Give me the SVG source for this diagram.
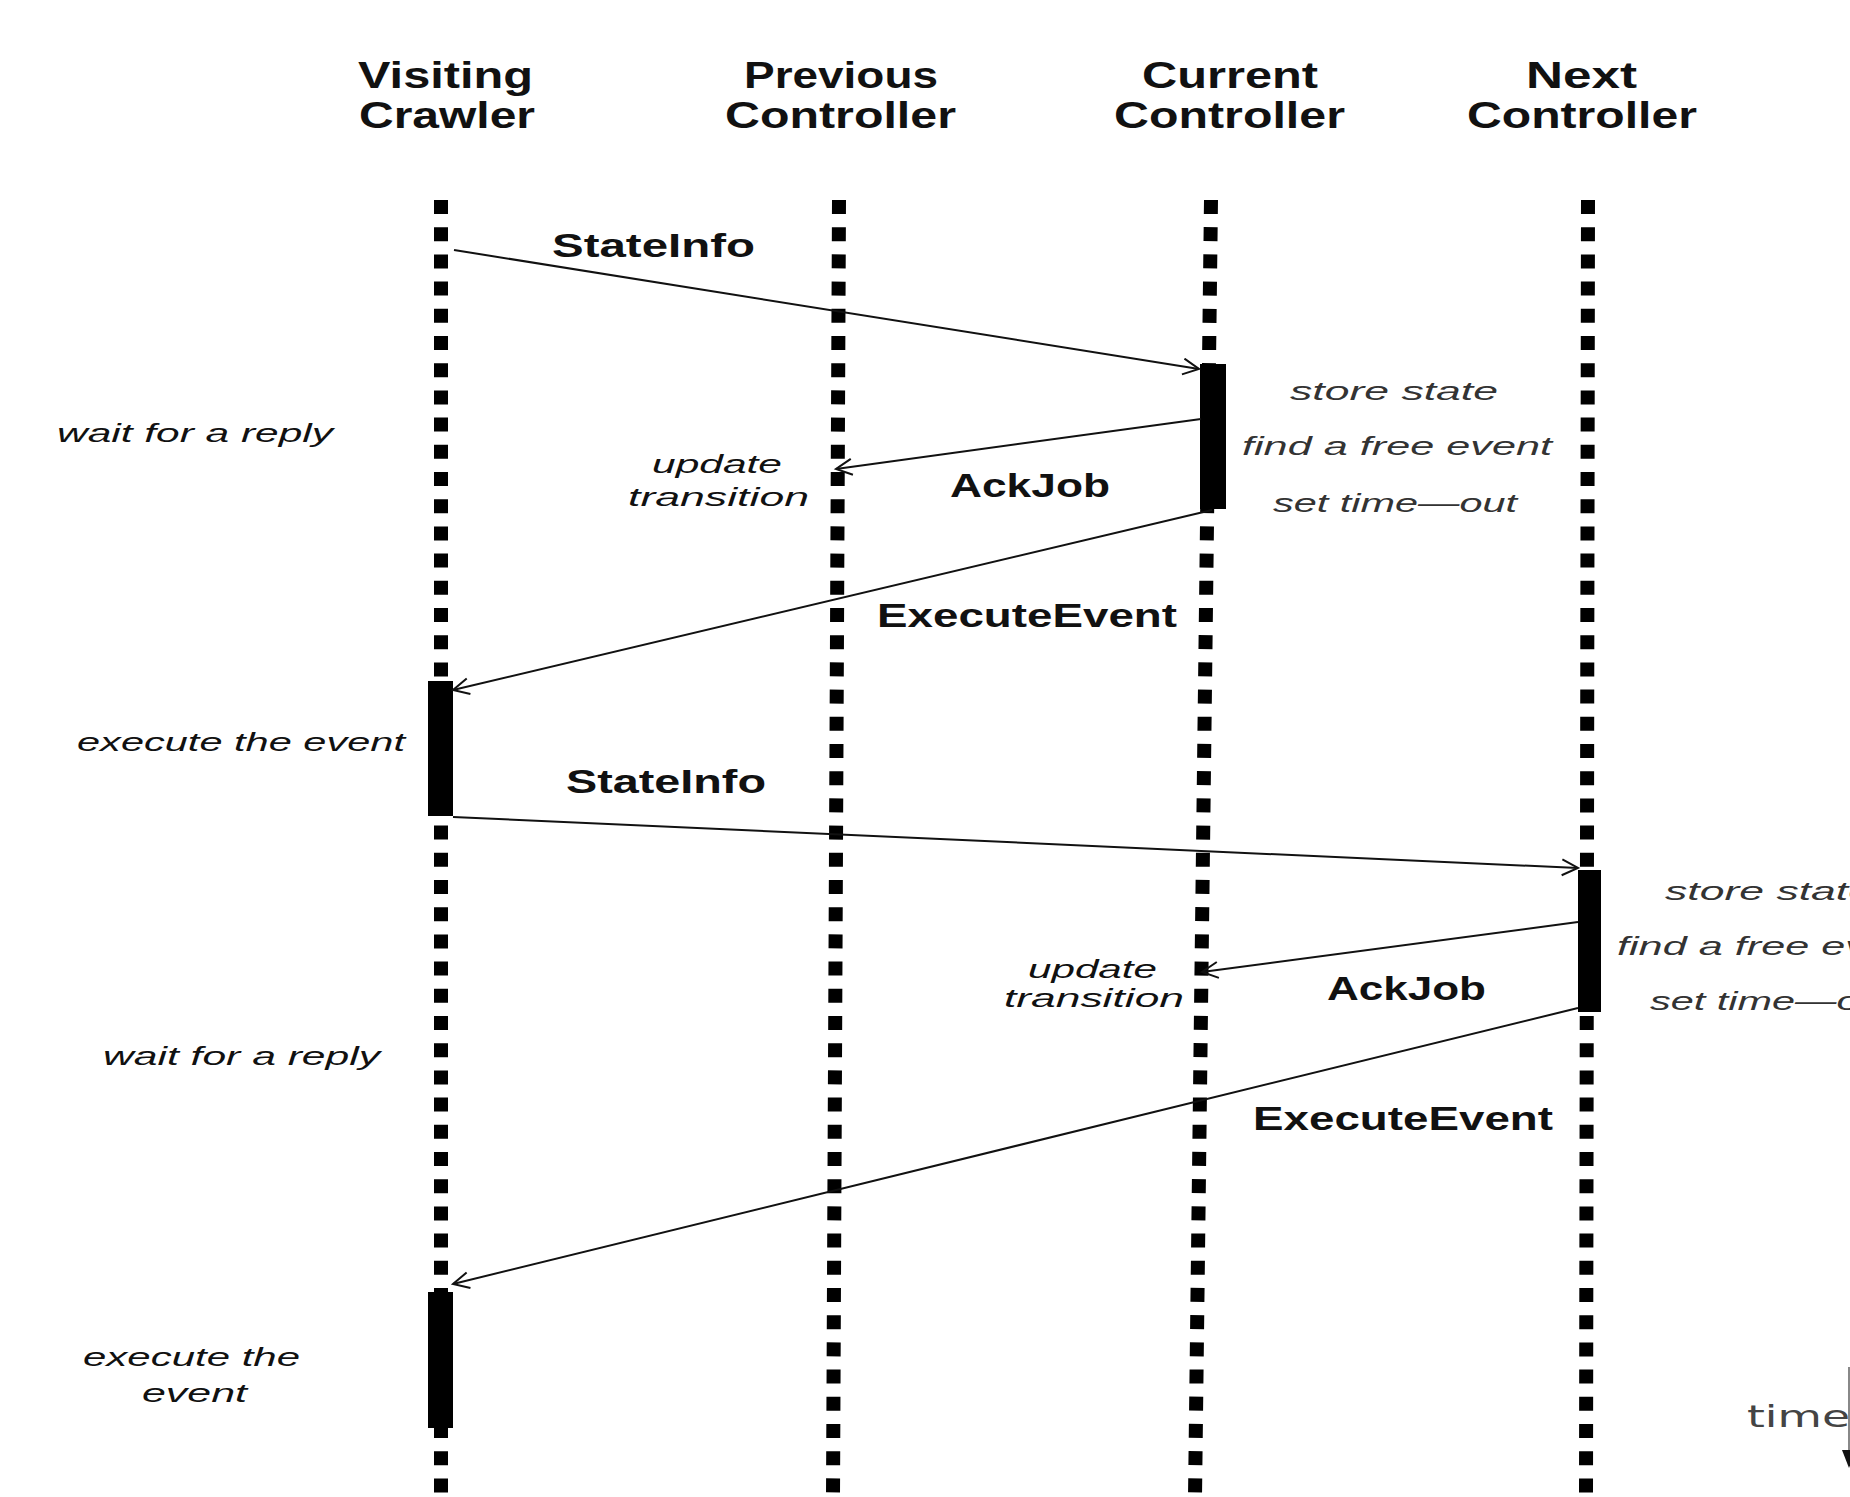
<svg xmlns="http://www.w3.org/2000/svg" width="1850" height="1497" viewBox="0 0 1850 1497">
<style>
.hdr{font-family:"Liberation Sans",Arial,sans-serif;font-weight:bold;font-size:36px;fill:#111}
.msg{font-family:"Liberation Sans",Arial,sans-serif;font-weight:bold;font-size:33px;fill:#111}
.note{font-family:"Liberation Sans",Arial,sans-serif;font-style:italic;font-size:26px;fill:#111}
.rnote{font-family:"Liberation Sans",Arial,sans-serif;font-style:italic;font-size:26px;fill:#333}
.life{stroke:#000;stroke-width:14;stroke-dasharray:14 13.2;fill:none}
.bar{fill:#000}
.conn{stroke:#111;stroke-width:2;fill:none;marker-end:url(#open)}
</style>
<defs>
<marker id="open" markerUnits="userSpaceOnUse" markerWidth="22" markerHeight="22" refX="17" refY="9" orient="auto">
<path d="M1,1 L17,9 L1,17" fill="none" stroke="#111" stroke-width="2"/>
</marker>
</defs>
<rect width="1850" height="1497" fill="#fff"/>

<g id="crawler">
<text class="hdr" x="358" y="88" textLength="175" lengthAdjust="spacingAndGlyphs">Visiting</text>
<text class="hdr" x="359" y="128" textLength="176" lengthAdjust="spacingAndGlyphs">Crawler</text>
<line class="life" x1="441" y1="200" x2="441" y2="1497"/>
<rect class="bar" x="428" y="681" width="25" height="135"/>
<rect class="bar" x="428" y="1292" width="25" height="136"/>
</g>
<g id="previous">
<text class="hdr" x="744" y="88" textLength="194" lengthAdjust="spacingAndGlyphs">Previous</text>
<text class="hdr" x="725" y="128" textLength="231" lengthAdjust="spacingAndGlyphs">Controller</text>
<line class="life" x1="839" y1="200" x2="833" y2="1497"/>
</g>
<g id="current">
<text class="hdr" x="1142" y="88" textLength="176" lengthAdjust="spacingAndGlyphs">Current</text>
<text class="hdr" x="1114" y="128" textLength="231" lengthAdjust="spacingAndGlyphs">Controller</text>
<line class="life" x1="1211" y1="200" x2="1195" y2="1497"/>
<rect class="bar" x="1200" y="364" width="26" height="145"/>
</g>
<g id="next">
<text class="hdr" x="1526" y="88" textLength="111" lengthAdjust="spacingAndGlyphs">Next</text>
<text class="hdr" x="1467" y="128" textLength="230" lengthAdjust="spacingAndGlyphs">Controller</text>
<line class="life" x1="1588" y1="200" x2="1586" y2="1497"/>
<rect class="bar" x="1578" y="870" width="23" height="142"/>
</g>

<g id="notes">
<text class="note" x="57" y="442" textLength="276" lengthAdjust="spacingAndGlyphs">wait for a reply</text>
<text class="note" x="77" y="751" textLength="328" lengthAdjust="spacingAndGlyphs">execute the event</text>
<text class="note" x="103" y="1065" textLength="277" lengthAdjust="spacingAndGlyphs">wait for a reply</text>
<text class="note" x="83" y="1366" textLength="217" lengthAdjust="spacingAndGlyphs">execute the</text>
<text class="note" x="142" y="1402" textLength="105" lengthAdjust="spacingAndGlyphs">event</text>
<text class="note" x="652" y="473" textLength="130" lengthAdjust="spacingAndGlyphs">update</text>
<text class="note" x="628" y="506" textLength="181" lengthAdjust="spacingAndGlyphs">transition</text>
<text class="note" x="1028" y="978" textLength="129" lengthAdjust="spacingAndGlyphs">update</text>
<text class="note" x="1004" y="1007" textLength="180" lengthAdjust="spacingAndGlyphs">transition</text>
<text class="rnote" x="1290" y="400" textLength="208" lengthAdjust="spacingAndGlyphs">store state</text>
<text class="rnote" x="1242" y="455" textLength="310" lengthAdjust="spacingAndGlyphs">find a free event</text>
<text class="rnote" x="1273" y="512" textLength="244" lengthAdjust="spacingAndGlyphs">set time—out</text>
<text class="rnote" x="1665" y="900" textLength="208" lengthAdjust="spacingAndGlyphs">store state</text>
<text class="rnote" x="1617" y="955" textLength="310" lengthAdjust="spacingAndGlyphs">find a free event</text>
<text class="rnote" x="1650" y="1010" textLength="244" lengthAdjust="spacingAndGlyphs">set time—out</text>
</g>

<g id="time-axis">
<text x="1747" y="1427" textLength="103" lengthAdjust="spacingAndGlyphs" style="font-family:'DejaVu Sans',sans-serif;font-size:30px;fill:#444">time</text>
<line x1="1849" y1="1367" x2="1849" y2="1460" stroke="#888" stroke-width="2"/>
<polygon points="1842,1450 1856,1450 1849,1468" fill="#111"/>
</g>

<g id="connectors">
<line class="conn" x1="454" y1="250" x2="1199" y2="369"/>
<line class="conn" x1="1201" y1="419" x2="836" y2="469"/>
<line class="conn" x1="1212" y1="510" x2="453" y2="690"/>
<line class="conn" x1="453" y1="817" x2="1578" y2="868"/>
<line class="conn" x1="1578" y1="922" x2="1202" y2="972"/>
<line class="conn" x1="1578" y1="1008" x2="453" y2="1284"/>
</g>

<g id="labels">
<text class="msg" x="552" y="257" textLength="203" lengthAdjust="spacingAndGlyphs">StateInfo</text>
<text class="msg" x="950" y="497" textLength="160" lengthAdjust="spacingAndGlyphs">AckJob</text>
<text class="msg" x="877" y="627" textLength="300" lengthAdjust="spacingAndGlyphs">ExecuteEvent</text>
<text class="msg" x="566" y="793" textLength="200" lengthAdjust="spacingAndGlyphs">StateInfo</text>
<text class="msg" x="1327" y="1000" textLength="159" lengthAdjust="spacingAndGlyphs">AckJob</text>
<text class="msg" x="1253" y="1130" textLength="300" lengthAdjust="spacingAndGlyphs">ExecuteEvent</text>
</g>
</svg>
